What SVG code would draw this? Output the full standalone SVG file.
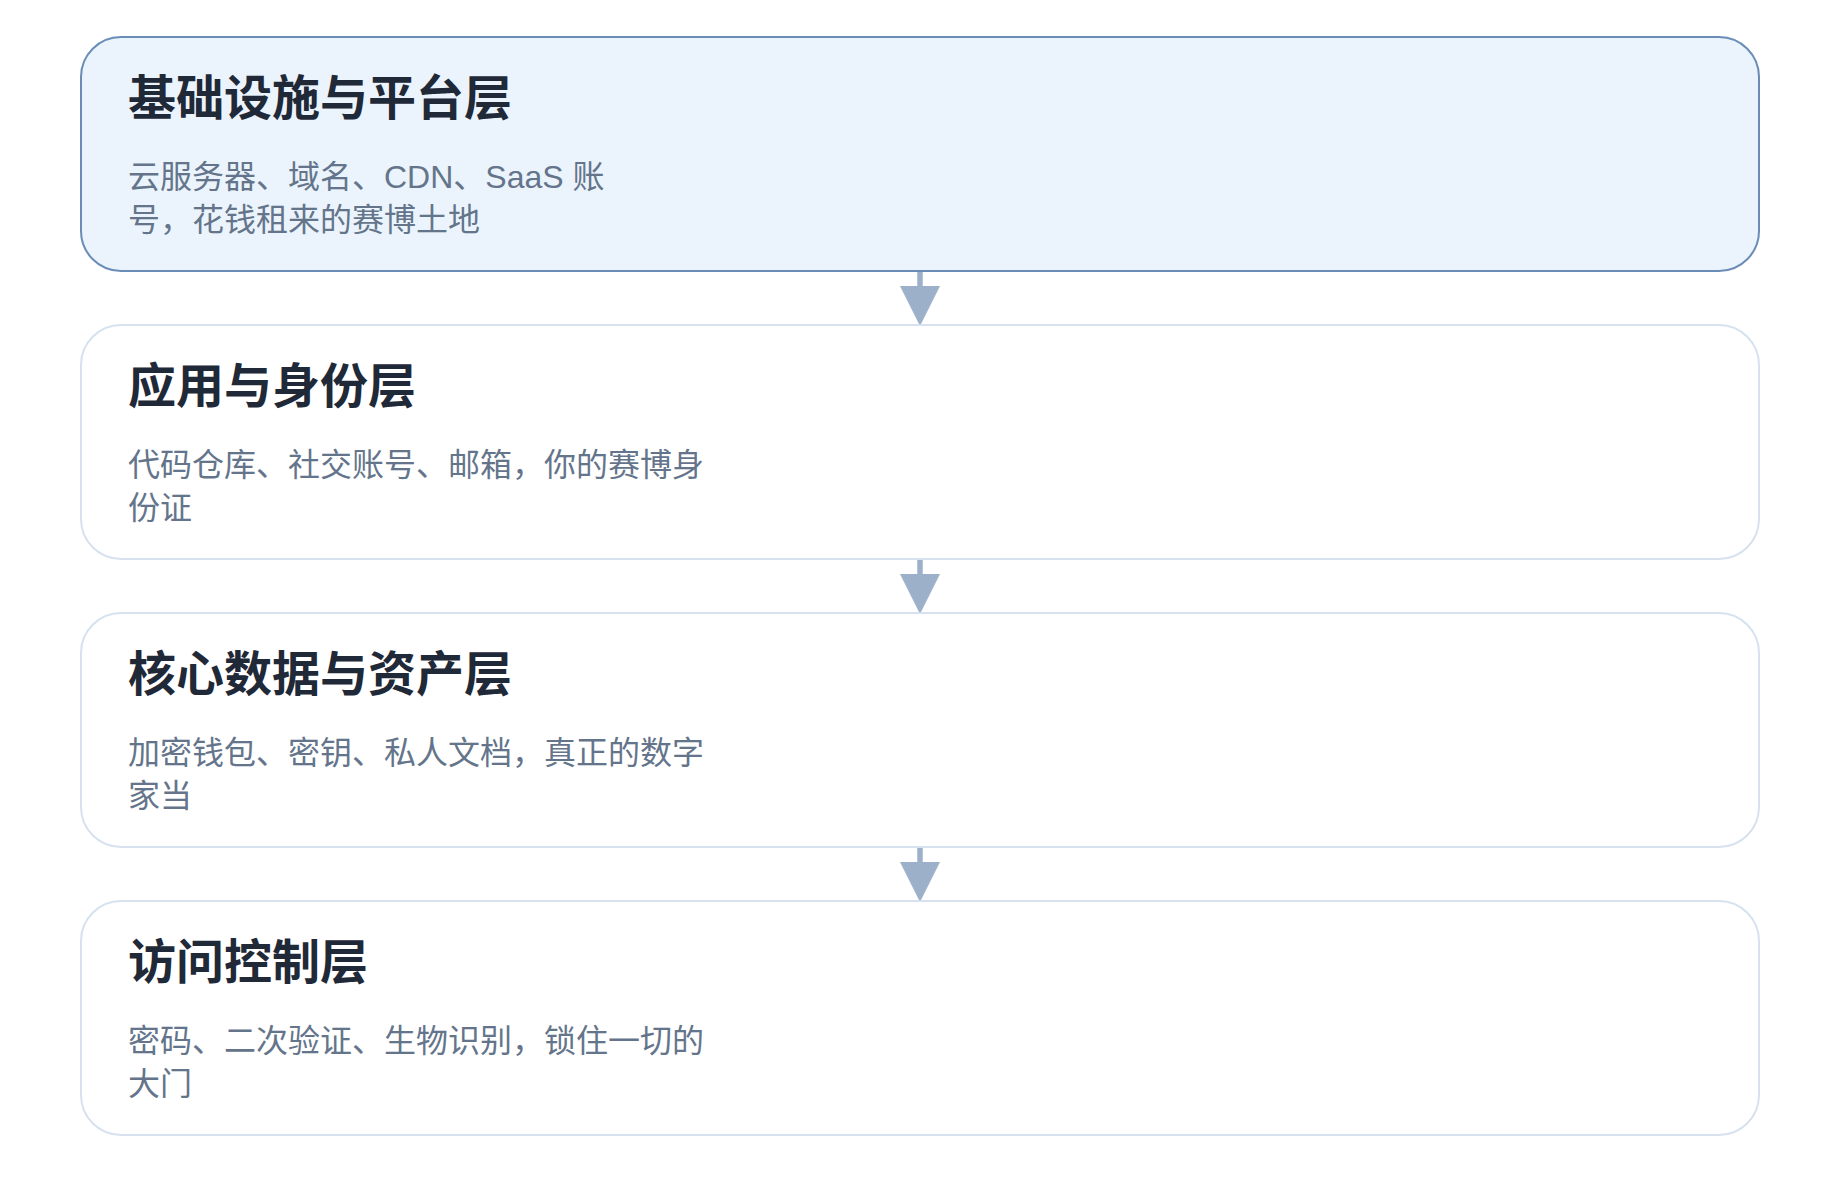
<svg xmlns="http://www.w3.org/2000/svg" width="1840" height="1192" viewBox="0 0 1840 1192">
<style>
.box{fill:#ffffff;stroke:#d6e2ef;stroke-width:2}
.box.active{fill:#ebf4fc;stroke:#6a8db8}
.title{font-family:"Liberation Sans","Noto Sans CJK SC",sans-serif;font-size:48px;font-weight:700;fill:#1f2937}
.desc{font-family:"Liberation Sans","Noto Sans CJK SC",sans-serif;font-size:32px;fill:#64758b}
.shaft{stroke:#9cb1c9;stroke-width:5.5;fill:none}
.head{fill:#9cb1c9}
</style>
<rect width="1840" height="1192" fill="#ffffff"/>
<g id="connectors">
<line class="shaft" x1="920" y1="272" x2="920" y2="290"/>
<polygon class="head" points="900,286 940,286 920,326"/>
<line class="shaft" x1="920" y1="560" x2="920" y2="578"/>
<polygon class="head" points="900,574 940,574 920,614"/>
<line class="shaft" x1="920" y1="848" x2="920" y2="866"/>
<polygon class="head" points="900,862 940,862 920,902"/>
</g>
<g id="node-infra">
<rect class="box active" x="81" y="37" width="1678" height="234" rx="40"/>
<text class="title" x="128" y="115">基础设施与平台层</text>
<text class="desc" x="128" y="187.5">云服务器、域名、CDN、SaaS 账</text>
<text class="desc" x="128" y="231">号，花钱租来的赛博土地</text>
</g>
<g id="node-identity">
<rect class="box" x="81" y="325" width="1678" height="234" rx="40"/>
<text class="title" x="128" y="403">应用与身份层</text>
<text class="desc" x="128" y="475.5">代码仓库、社交账号、邮箱，你的赛博身</text>
<text class="desc" x="128" y="519">份证</text>
</g>
<g id="node-data">
<rect class="box" x="81" y="613" width="1678" height="234" rx="40"/>
<text class="title" x="128" y="691">核心数据与资产层</text>
<text class="desc" x="128" y="763.5">加密钱包、密钥、私人文档，真正的数字</text>
<text class="desc" x="128" y="807">家当</text>
</g>
<g id="node-access">
<rect class="box" x="81" y="901" width="1678" height="234" rx="40"/>
<text class="title" x="128" y="979">访问控制层</text>
<text class="desc" x="128" y="1051.5">密码、二次验证、生物识别，锁住一切的</text>
<text class="desc" x="128" y="1095">大门</text>
</g>
</svg>
